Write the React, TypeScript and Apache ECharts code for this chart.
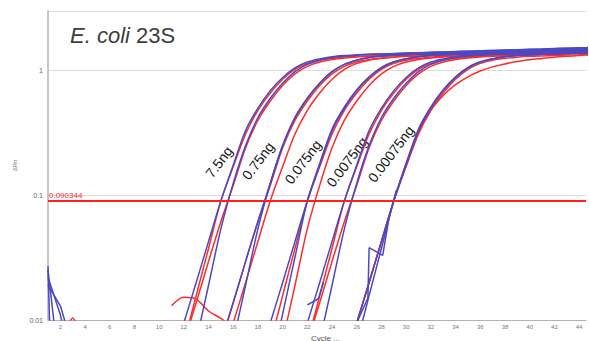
import React, { useEffect, useRef } from 'react';
import * as echarts from 'echarts';

// ---- axis ----
const xMin = 1;
const xMax = 44.56;
const yMin = 0.01;
const yMax = 3;
const yTickValues = [0.01, 0.1, 1];
const yTickLabels = ['0.01', '0.1', '1'];
const threshold = 0.090344;
const thresholdLabel = '0.090344';
const groupLabels = ['7.5ng', '0.75ng', '0.075ng', '0.0075ng', '0.00075ng'];

// ---- amplification curves (value per cycle, starting at "start") ----
// 7.5 ng
const g1b1 = { start: 11, v: [0.0046, 0.0095, 0.02, 0.0427, 0.0902, 0.175, 0.33, 0.5, 0.69, 0.88, 1.05, 1.17, 1.24, 1.29, 1.318, 1.335, 1.349, 1.358, 1.371, 1.38, 1.39, 1.4, 1.409, 1.419, 1.429, 1.439, 1.449, 1.459, 1.469, 1.479, 1.489, 1.5, 1.51, 1.521, 1.531] };
const g1b2 = { start: 13, v: [0.0068, 0.019, 0.054, 0.125, 0.25, 0.42, 0.6, 0.79, 0.98, 1.12, 1.21, 1.27, 1.305, 1.328, 1.343, 1.353, 1.365, 1.375, 1.385, 1.395, 1.405, 1.414, 1.424, 1.434, 1.444, 1.454, 1.464, 1.474, 1.484, 1.495, 1.505, 1.515, 1.526] };
const g1r1 = { start: 11, v: [0.0032, 0.0066, 0.0138, 0.0295, 0.0617, 0.12, 0.24, 0.4, 0.57, 0.76, 0.94, 1.08, 1.17, 1.225, 1.26, 1.285, 1.3, 1.31, 1.324, 1.334, 1.343, 1.353, 1.363, 1.372, 1.381, 1.391, 1.401, 1.41, 1.42, 1.43, 1.44, 1.45, 1.46, 1.47, 1.48] };
const g1r2 = { start: 12, v: [0.0065, 0.0157, 0.0376, 0.0902, 0.17, 0.31, 0.48, 0.66, 0.85, 1.02, 1.14, 1.21, 1.25, 1.28, 1.3, 1.31, 1.317, 1.33, 1.339, 1.348, 1.358, 1.367, 1.376, 1.386, 1.396, 1.406, 1.415, 1.425, 1.435, 1.444, 1.455, 1.465, 1.475, 1.485] };
// 0.75 ng
const g2b1 = { start: 14, v: [0.0032, 0.0066, 0.0138, 0.0295, 0.0617, 0.125, 0.25, 0.42, 0.6, 0.79, 0.98, 1.12, 1.21, 1.27, 1.305, 1.328, 1.343, 1.353, 1.365, 1.375, 1.385, 1.395, 1.405, 1.414, 1.424, 1.434, 1.444, 1.454, 1.464, 1.474, 1.484, 1.495] };
const g2b2 = { start: 16, v: [0.0068, 0.019, 0.054, 0.125, 0.25, 0.42, 0.6, 0.79, 0.98, 1.12, 1.21, 1.27, 1.305, 1.328, 1.343, 1.353, 1.365, 1.375, 1.385, 1.395, 1.405, 1.414, 1.424, 1.434, 1.444, 1.454, 1.464, 1.474, 1.484, 1.495] };
const g2r1 = { start: 14, v: [0.0032, 0.0066, 0.0138, 0.0295, 0.0617, 0.12, 0.24, 0.4, 0.57, 0.76, 0.94, 1.08, 1.17, 1.225, 1.26, 1.285, 1.3, 1.31, 1.324, 1.334, 1.343, 1.353, 1.363, 1.372, 1.381, 1.391, 1.401, 1.41, 1.42, 1.43, 1.44, 1.45] };
const g2r2 = { start: 15, v: [0.0046, 0.0095, 0.02, 0.0427, 0.0902, 0.17, 0.31, 0.48, 0.66, 0.85, 1.02, 1.14, 1.21, 1.25, 1.28, 1.3, 1.31, 1.317, 1.33, 1.339, 1.348, 1.358, 1.367, 1.376, 1.386, 1.396, 1.406, 1.415, 1.425, 1.435, 1.444] };
// 0.075 ng
const g3b1 = { start: 18, v: [0.0046, 0.0095, 0.02, 0.0427, 0.0902, 0.175, 0.33, 0.5, 0.69, 0.88, 1.05, 1.17, 1.24, 1.29, 1.318, 1.335, 1.349, 1.358, 1.371, 1.38, 1.39, 1.4, 1.409, 1.419, 1.429, 1.439, 1.449, 1.459] };
const g3b2 = { start: 19, v: [0.004, 0.0112, 0.032, 0.0902, 0.18, 0.34, 0.51, 0.7, 0.89, 1.06, 1.175, 1.245, 1.292, 1.32, 1.337, 1.35, 1.36, 1.372, 1.382, 1.392, 1.402, 1.411, 1.421, 1.431, 1.441, 1.451, 1.461] };
const g3r1 = { start: 19, v: [0.0065, 0.0157, 0.0376, 0.0902, 0.17, 0.31, 0.48, 0.66, 0.85, 1.02, 1.14, 1.21, 1.25, 1.28, 1.3, 1.31, 1.317, 1.33, 1.339, 1.348, 1.358, 1.367, 1.376, 1.386, 1.396, 1.406, 1.415] };
const g3r2 = { start: 20, v: [0.0068, 0.019, 0.054, 0.12, 0.24, 0.4, 0.57, 0.76, 0.94, 1.08, 1.17, 1.225, 1.26, 1.285, 1.3, 1.31, 1.324, 1.334, 1.343, 1.353, 1.363, 1.372, 1.381, 1.391, 1.401, 1.41] };
// 0.0075 ng
const g4b1 = { start: 21, v: [0.0046, 0.0095, 0.02, 0.0427, 0.0902, 0.175, 0.33, 0.5, 0.69, 0.88, 1.05, 1.17, 1.24, 1.29, 1.318, 1.335, 1.349, 1.358, 1.371, 1.38, 1.39, 1.4, 1.409, 1.419, 1.429] };
const g4b2 = { start: 23, v: [0.0068, 0.019, 0.054, 0.125, 0.25, 0.42, 0.6, 0.79, 0.98, 1.12, 1.21, 1.27, 1.305, 1.328, 1.343, 1.353, 1.365, 1.375, 1.385, 1.395, 1.405, 1.414, 1.424] };
const g4r1 = { start: 21, v: [0.0032, 0.0066, 0.0138, 0.0295, 0.0617, 0.12, 0.24, 0.4, 0.57, 0.76, 0.94, 1.08, 1.17, 1.225, 1.26, 1.285, 1.3, 1.31, 1.324, 1.334, 1.343, 1.353, 1.363, 1.372, 1.381] };
const g4r2 = { start: 22, v: [0.0065, 0.0157, 0.0376, 0.0902, 0.17, 0.31, 0.48, 0.66, 0.85, 1.02, 1.14, 1.21, 1.25, 1.28, 1.3, 1.31, 1.317, 1.33, 1.339, 1.348, 1.358, 1.367, 1.376, 1.386] };
// 0.00075 ng
const g5b1 = { start: 25, v: [0.0046, 0.0095, 0.02, 0.0427, 0.0902, 0.175, 0.33, 0.5, 0.69, 0.88, 1.05, 1.17, 1.24, 1.29, 1.318, 1.335, 1.349, 1.358, 1.371, 1.38, 1.39] };
const g5b2 = { start: 26, v: [0.0065, 0.0157, 0.0376, 0.0902, 0.18, 0.34, 0.51, 0.7, 0.89, 1.06, 1.175, 1.245, 1.292, 1.32, 1.337, 1.35, 1.36, 1.372, 1.382, 1.392] };
const g5r1 = { start: 25, v: [0.0046, 0.0095, 0.02, 0.0427, 0.0902, 0.17, 0.31, 0.48, 0.66, 0.85, 1.02, 1.14, 1.21, 1.25, 1.28, 1.3, 1.31, 1.317, 1.33, 1.339, 1.348] };
const g5r2 = { start: 25, v: [0.0046, 0.0095, 0.02, 0.0427, 0.0902, 0.18, 0.32, 0.48, 0.63, 0.77, 0.89, 0.99, 1.07, 1.13, 1.18, 1.22, 1.25, 1.28, 1.3, 1.32, 1.34] };

// ---- stray traces ([cycle, value]) ----
const earlyBlue1 = [[1, 0.027], [2, 0.00001]];
const earlyBlue2 = [[1, 0.025], [2, 0.0035]];
const earlyBlue3 = [[1, 0.022], [2, 0.011], [3, 0.004]];
const earlyBlue4 = [[1, 0.019], [2, 0.013], [3, 0.006]];
const redBump = [[11, 0.013], [12, 0.0152], [13, 0.0147], [14, 0.0118], [15, 0.0103], [16, 0.0085]];
const redSpeck = [[2.8, 0.0098], [3.0, 0.0104], [3.2, 0.0098]];
const blueCurlG4 = [[22, 0.0132], [22.9, 0.0148], [23.3, 0.02]];
const blueJagG5 = [[26.0, 0.0095], [26.9, 0.015], [27.0, 0.038], [28.1, 0.033], [28.6, 0.065], [29.2, 0.11]];

const blueCurves = [g1b1, g1b2, g2b1, g2b2, g3b1, g3b2, g4b1, g4b2, g5b1, g5b2];
const redCurves = [g1r1, g1r2, g2r1, g2r2, g3r1, g3r2, g4r1, g4r2, g5r1, g5r2];
const blueStrays = [earlyBlue1, earlyBlue2, earlyBlue3, earlyBlue4, blueCurlG4, blueJagG5];
const redStrays = [redBump, redSpeck];

const BLUE = '#4b48c4';
const RED = '#ff2b2b';
const FONT = '"Liberation Sans", Arial, sans-serif';

function toPairs(c: { start: number; v: number[] }) {
  return c.v.map((v, i) => [c.start + i, v]);
}

export default function App() {
  const ref = useRef<HTMLDivElement>(null);
  useEffect(() => {
    if (!ref.current) return;
    const chart = echarts.init(ref.current, undefined, { renderer: 'svg' });
    const lineBase = (data: number[][], color: string, smooth: number) => ({
      type: 'line',
      data,
      showSymbol: false,
      symbol: 'none',
      smooth,
      silent: true,
      clip: true,
      lineStyle: { color, width: 1.5 },
      emphasis: { disabled: true },
    });
    const series: any[] = [];
    redStrays.forEach((d) => series.push(lineBase(d, RED, 0.3)));
    redCurves.forEach((c) => series.push(lineBase(toPairs(c), RED, 0.3)));
    blueStrays.forEach((d) => series.push(lineBase(d, BLUE, 0)));
    blueCurves.forEach((c) => series.push(lineBase(toPairs(c), BLUE, 0.3)));
    series.push({
      type: 'line',
      data: [],
      silent: true,
      markLine: {
        silent: true,
        symbol: 'none',
        animation: false,
        lineStyle: { color: '#ff1f1f', width: 2, type: 'solid' },
        label: {
          show: true,
          position: 'insideStartTop',
          formatter: thresholdLabel,
          color: '#ff1f1f',
          fontSize: 8,
          fontFamily: FONT,
          distance: [1, 1],
        },
        data: [{ yAxis: threshold }],
      },
    });

    const labelPos = [
      [219, 162],
      [258, 161],
      [303, 162],
      [347, 162],
      [391, 154],
    ];
    const graphic: any[] = [
      {
        type: 'text',
        left: 70,
        top: 24,
        silent: true,
        style: {
          text: '{i|E. coli} 23S',
          fontSize: 22,
          fontFamily: FONT,
          fill: '#3d3d3d',
          rich: {
            i: { fontStyle: 'italic', fontSize: 22, fontFamily: FONT, fill: '#3d3d3d' },
          },
        },
      },
      {
        type: 'text',
        x: 311,
        y: 338,
        silent: true,
        style: {
          text: 'Cycle ...',
          fontSize: 8,
          fontFamily: FONT,
          fill: '#555',
          align: 'left',
          verticalAlign: 'middle',
        },
      },
      ...groupLabels.map((t, i) => ({
        type: 'text',
        x: labelPos[i][0],
        y: labelPos[i][1],
        rotation: (53 * Math.PI) / 180,
        silent: true,
        style: {
          text: t,
          fontSize: 14,
          fontFamily: FONT,
          fill: '#151515',
          align: 'center',
          verticalAlign: 'middle',
        },
      })),
    ];

    chart.setOption({
      animation: false,
      backgroundColor: '#ffffff',
      grid: { left: 48, right: 0, top: 11, bottom: 21, containLabel: false },
      xAxis: {
        type: 'value',
        min: xMin,
        max: xMax,
        interval: 1,
        axisLine: { show: true, lineStyle: { color: '#b8b0b0', width: 1 } },
        axisTick: { show: false },
        splitLine: { show: false },
        axisLabel: {
          fontSize: 6,
          color: '#777',
          fontFamily: FONT,
          margin: 4,
          formatter: (v: number) => {
            const r = Math.round(v);
            return Math.abs(v - r) < 1e-6 && r % 2 === 0 ? String(r) : '';
          },
        },
      },
      yAxis: {
        type: 'log',
        logBase: 10,
        min: yMin,
        max: yMax,
        name: 'ΔRn',
        nameLocation: 'middle',
        nameGap: 28,
        nameRotate: 90,
        nameTextStyle: { fontSize: 6, color: '#777', fontFamily: FONT },
        axisLine: { show: true, lineStyle: { color: '#b8b0b0', width: 1.5 } },
        axisTick: { show: false },
        splitLine: { show: true, lineStyle: { color: '#dcdcdc', width: 1 } },
        axisLabel: {
          fontSize: 7,
          color: '#666',
          fontFamily: FONT,
          margin: 5,
          formatter: (v: number) => {
            const idx = yTickValues.findIndex((t) => Math.abs(Math.log10(v) - Math.log10(t)) < 1e-6);
            return idx >= 0 ? yTickLabels[idx] : '';
          },
        },
      },
      series,
      graphic,
    });
    return () => chart.dispose();
  }, []);
  return (
    <div
      ref={ref}
      style={{ position: 'fixed', left: 0, top: 0, width: 589, height: 341, background: '#fff' }}
    />
  );
}
